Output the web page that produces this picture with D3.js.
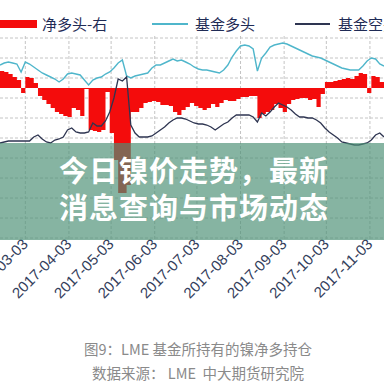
<!DOCTYPE html>
<html>
<head>
<meta charset="utf-8">
<script src="https://cdn.jsdelivr.net/npm/d3@7/dist/d3.min.js"></script>
<style>
  body { margin: 0; background: #fff; }
  svg { display: block; }
</style>
</head>
<body>
<div id="chart"></div>
<script>
// every third day, feb 13 -> nov 13 2017
const dates = [
  "2017-02-13","2017-02-16","2017-02-19","2017-02-22","2017-02-25","2017-02-28",
  "2017-03-03","2017-03-06","2017-03-09","2017-03-12","2017-03-15","2017-03-18","2017-03-21","2017-03-24","2017-03-27","2017-03-30",
  "2017-04-02","2017-04-05","2017-04-08","2017-04-11","2017-04-14","2017-04-17","2017-04-20","2017-04-23","2017-04-26","2017-04-29",
  "2017-05-02","2017-05-05","2017-05-08","2017-05-11","2017-05-14","2017-05-17","2017-05-20","2017-05-23","2017-05-26","2017-05-29",
  "2017-06-01","2017-06-04","2017-06-07","2017-06-10","2017-06-13","2017-06-16","2017-06-19","2017-06-22","2017-06-25","2017-06-28",
  "2017-07-01","2017-07-04","2017-07-07","2017-07-10","2017-07-13","2017-07-16","2017-07-19","2017-07-22","2017-07-25","2017-07-28","2017-07-31",
  "2017-08-03","2017-08-06","2017-08-09","2017-08-12","2017-08-15","2017-08-18","2017-08-21","2017-08-24","2017-08-27","2017-08-30",
  "2017-09-02","2017-09-05","2017-09-08","2017-09-11","2017-09-14","2017-09-17","2017-09-20","2017-09-23","2017-09-26","2017-09-29",
  "2017-10-02","2017-10-05","2017-10-08","2017-10-11","2017-10-14","2017-10-17","2017-10-20","2017-10-23","2017-10-26","2017-10-29",
  "2017-11-01","2017-11-04","2017-11-07","2017-11-10","2017-11-13"
];

// 净多头 (right axis)
const netLong = [
  3400,3200,2800,2200,1600,-1000,2200,2000,1000,-1600,
  -2400,-3200,-4000,-4800,-5200,-5600,-5800,-4000,-4400,-5600,
  -200,-8400,-8600,-8800,-8400,-800,-9000,-14400,-21000,-21000,
  -19400,-4800,-4800,-4000,-3000,-2800,-2600,-2800,-3400,-3400,
  -3600,-4800,-5400,-4400,-3800,-3000,-3600,-4000,-4400,-4000,
  -3200,-3800,-3000,-2400,-2600,-2600,-2200,-1800,-1800,-1600,
  -1600,-6000,-5200,-4800,-4400,-3200,-4000,-4800,-3200,-2400,
  -2200,-2000,-2000,-2400,-2200,-3800,-1200,1200,1200,1400,
  1600,1800,2000,1800,2400,3000,2800,-1000,2400,2200,
  1200,1000
];

// 基金多头 (left axis)
const fundLong = [
  86500,87500,88000,87500,87000,83000,88000,87000,85500,84000,
  82500,81500,80500,79500,78000,79500,82000,82500,82000,81500,
  79000,76500,79000,80000,80500,82000,83000,85000,87500,89000,
  81000,80000,81000,81500,82000,82500,85000,86500,86500,87500,
  88500,89500,88500,89000,88000,87000,85500,84500,84000,84000,
  83500,83000,82500,84000,86500,90500,93500,96000,96500,96000,
  94500,83500,90000,92500,95500,96500,97000,97500,97000,96000,
  95000,94000,93000,92000,91000,90500,90000,89000,88000,87000,
  86000,85000,84500,84000,84000,84000,86000,88500,90000,89500,
  87000,86000
];

// 基金空头 (left axis)
const fundShort = [
  47500,48000,48500,48500,48500,48500,48500,48500,50500,51500,
  49500,48000,47500,49000,49500,50500,54000,55000,53000,52500,
  52500,53000,57500,56000,56000,58500,63000,70000,79500,78500,
  80500,56500,52500,50500,50500,50500,51000,52500,54000,55500,
  57500,59000,60000,60000,59500,58500,57500,57000,57000,56500,
  55500,54000,55500,57000,58000,60000,61500,61500,61500,61500,
  60500,58000,62500,61000,63000,65500,67500,66500,65500,64000,
  62000,60500,60500,60000,60000,59000,57500,55000,53000,51500,
  50000,48000,47500,47000,46500,46500,47000,47500,49000,51500,
  52500,50500
];

const tickDates = ["2017-03-03","2017-04-03","2017-05-03","2017-06-03","2017-07-03",
                   "2017-08-03","2017-09-03","2017-10-03","2017-11-03"];

const legendLabels = ["净多头-右", "基金多头", "基金空头"];
const titleLines = ["今日镍价走势，最新", "消息查询与市场动态"];
const captionLines = ["图9：LME 基金所持有的镍净多持仓", "数据来源： LME  中大期货研究院"];

const width = 384, height = 384;
const parse = d3.timeParse("%Y-%m-%d");

const data = dates.map((d, i) => ({
  date: parse(d),
  net: netLong[i],
  long: fundLong[i],
  short: fundShort[i]
}));

const svg = d3.select("#chart").append("svg")
  .attr("width", width)
  .attr("height", height);

const x = d3.scaleTime()
  .domain([parse("2017-02-13"), parse("2017-11-13")])
  .range([0, width]);

const yLeft = d3.scaleLinear().domain([0, 100000]).range([238, 38]);
const yRight = d3.scaleLinear().domain([-30000, 10000]).range([238, 38]);

// grid
const grid = svg.append("g").attr("class", "grid");
grid.selectAll(".vgrid")
  .data(tickDates.map(parse))
  .join("line")
  .attr("x1", d => x(d)).attr("x2", d => x(d))
  .attr("y1", 36).attr("y2", 240)
  .attr("stroke", "#c4c4c4").attr("stroke-dasharray", "3,2");
grid.selectAll(".hgrid")
  .data(yLeft.ticks(10))
  .join("line")
  .attr("x1", 0).attr("x2", width)
  .attr("y1", d => yLeft(d)).attr("y2", d => yLeft(d))
  .attr("stroke", "#c4c4c4").attr("stroke-dasharray", "3,2");

// net long bars as one stepped area (no seams between bars)
const netArea = d3.area()
  .curve(d3.curveStepAfter)
  .x(d => x(d.date))
  .y0(yRight(0))
  .y1(d => yRight(d.net));

svg.append("path").datum(data)
  .attr("d", netArea)
  .attr("fill", "#f40c0c");

const lineLong = d3.line().x(d => x(d.date)).y(d => yLeft(d.long));
const lineShort = d3.line().x(d => x(d.date)).y(d => yLeft(d.short));

svg.append("path").datum(data)
  .attr("d", lineLong)
  .attr("fill", "none").attr("stroke", "#4fb6cb").attr("stroke-width", 1.4);

svg.append("path").datum(data)
  .attr("d", lineShort)
  .attr("fill", "none").attr("stroke", "#2e3551").attr("stroke-width", 1.3);

// x axis (rotated date labels)
const xAxis = d3.axisBottom(x)
  .tickValues(tickDates.map(parse))
  .tickFormat(d3.timeFormat("%Y-%m-%d"))
  .tickSize(0);

const gx = svg.append("g").attr("transform", "translate(0,240)").call(xAxis);
gx.select(".domain").remove();
gx.selectAll("text")
  .attr("font-family", "Liberation Sans, Arial, sans-serif")
  .attr("font-size", 15)
  .attr("fill", "#34405c")
  .attr("text-anchor", "end")
  .attr("dy", null).attr("y", 0)
  .attr("transform", "translate(3,5) rotate(-45)");

// legend
const legend = svg.append("g")
  .attr("font-family", "Noto Sans CJK SC, sans-serif")
  .attr("font-size", 15)
  .attr("fill", "#1f2b55");
legend.append("rect").attr("x", 0).attr("y", 20).attr("width", 37).attr("height", 8).attr("fill", "#f40c0c");
legend.append("text").attr("x", 42).attr("y", 30).text(legendLabels[0]);
legend.append("line").attr("x1", 152).attr("x2", 188).attr("y1", 24).attr("y2", 24)
  .attr("stroke", "#4fb6cb").attr("stroke-width", 2);
legend.append("text").attr("x", 195).attr("y", 30).text(legendLabels[1]);
legend.append("line").attr("x1", 295).attr("x2", 330).attr("y1", 24).attr("y2", 24)
  .attr("stroke", "#2e3551").attr("stroke-width", 2);
legend.append("text").attr("x", 338).attr("y", 30).text(legendLabels[2]);

// green title band
svg.append("rect")
  .attr("x", 0).attr("y", 143).attr("width", width).attr("height", 97)
  .attr("fill", "rgba(77,145,118,0.68)");

svg.append("g")
  .attr("font-family", "Noto Sans CJK SC, sans-serif")
  .attr("font-weight", 700)
  .attr("font-size", 29)
  .attr("letter-spacing", 1)
  .attr("fill", "#fff")
  .attr("text-anchor", "middle")
  .selectAll("text")
  .data(titleLines)
  .join("text")
  .attr("x", 194)
  .attr("y", (d, i) => 182 + i * 37)
  .text(d => d);

// caption
svg.append("g")
  .attr("font-family", "Noto Sans CJK SC, sans-serif")
  .attr("font-size", 14.5)
  .attr("fill", "#8a8a8a")
  .attr("text-anchor", "middle")
  .selectAll("text")
  .data(captionLines)
  .join("text")
  .attr("x", 198)
  .attr("y", (d, i) => 355 + i * 24)
  .attr("xml:space", "preserve")
  .text(d => d);
</script>
</body>
</html>
